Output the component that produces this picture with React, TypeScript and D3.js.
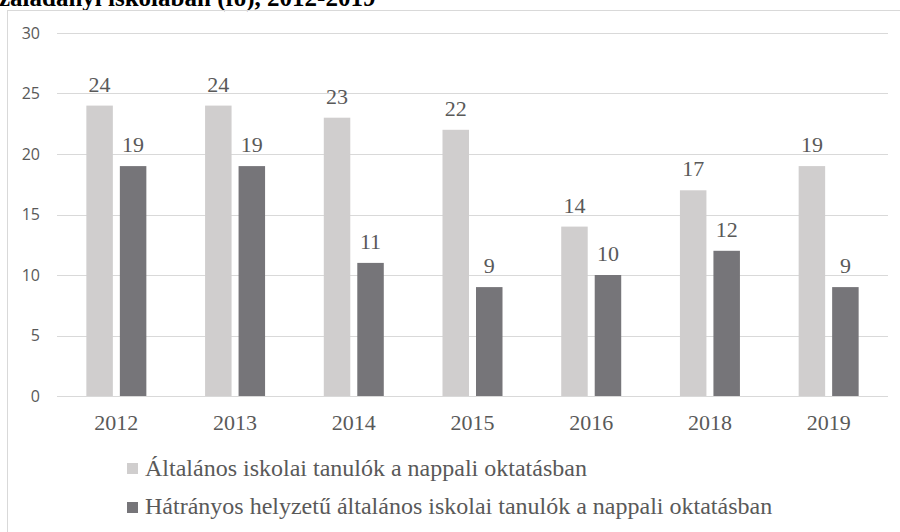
import React from "react";
import * as d3 from "d3";

const categories = ["2012", "2013", "2014", "2015", "2016", "2018", "2019"];
const seriesNames = [
  "Általános iskolai tanulók a nappali oktatásban",
  "Hátrányos helyzetű általános iskolai tanulók a nappali oktatásban",
];
const generalValues = [24, 24, 23, 22, 14, 17, 19];
const disadvantagedValues = [19, 19, 11, 9, 10, 12, 9];
const yTicks = [0, 5, 10, 15, 20, 25, 30];
const titleText = "zaladányi iskolában (fő), 2012-2019";

const colors = ["#d0cece", "#767579"];
const serif = "'Liberation Serif', 'Times New Roman', serif";
const sans = "'Open Sans', 'Liberation Sans', sans-serif";

export default function App() {
  const W = 900;
  const H = 532;
  const plotLeft = 57;
  const plotRight = 888;
  const y = d3.scaleLinear().domain([0, 30]).range([396, 33]);
  const x0 = d3.scaleBand<string>().domain(categories).range([plotLeft, plotRight]).paddingInner(0).paddingOuter(0);
  const barW = 26.5;
  const gap = 7;
  const series = [generalValues, disadvantagedValues];

  return (
    <svg width={W} height={H} style={{ position: "absolute", left: 0, top: 0 }}>
      <rect x={0} y={0} width={W} height={H} fill="#ffffff" />
      <text x={-1} y={6} fontFamily={serif} fontWeight="bold" fontSize={25} fill="#000">
        {titleText}
      </text>
      <rect x={7.5} y={10.5} width={W} height={H} fill="none" stroke="#d9d9d9" strokeWidth={1} />
      {yTicks.map((t) => (
        <g key={t}>
          <line x1={plotLeft} x2={plotRight} y1={Math.round(y(t)) + 0.5} y2={Math.round(y(t)) + 0.5} stroke="#d9d9d9" strokeWidth={1} />
          <text x={40} y={y(t)} dy="0.35em" textAnchor="end" fontFamily={sans} fontSize={16} fill="#595959">
            {t}
          </text>
        </g>
      ))}
      {categories.map((c, i) => {
        const cx = (x0(c) as number) + x0.bandwidth() / 2;
        return (
          <g key={c}>
            {series.map((vals, s) => {
              const bx = s === 0 ? cx - gap / 2 - barW : cx + gap / 2;
              const v = vals[i];
              return (
                <g key={s}>
                  <rect x={bx} y={y(v)} width={barW} height={y(0) - y(v)} fill={colors[s]} />
                  <text x={bx + barW / 2} y={y(v) - 14} textAnchor="middle" fontFamily={serif} fontSize={22} fill="#595959">
                    {v}
                  </text>
                </g>
              );
            })}
            <text x={cx} y={430} textAnchor="middle" fontFamily={serif} fontSize={22} fill="#595959">
              {c}
            </text>
          </g>
        );
      })}
      {seriesNames.map((name, s) => (
        <g key={name}>
          <rect x={127} y={s === 0 ? 463 : 502} width={11} height={11} fill={colors[s]} />
          <text x={145} y={s === 0 ? 476 : 514} fontFamily={serif} fontSize={24} fill="#595959">
            {name}
          </text>
        </g>
      ))}
    </svg>
  );
}
